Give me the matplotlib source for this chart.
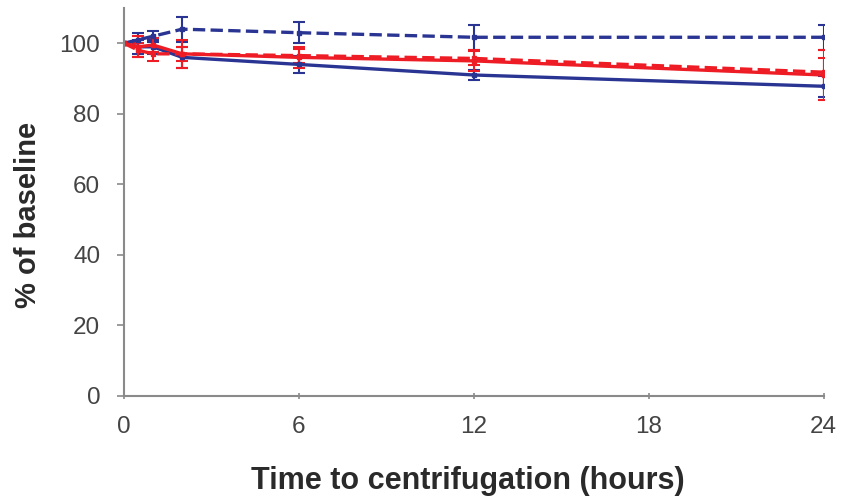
import numpy as np
import matplotlib
matplotlib.use("Agg")
import matplotlib.pyplot as plt

plt.rcParams['font.family'] = ['Liberation Sans', 'DejaVu Sans']

# time points (hours)
hours = [0, 0.5, 1, 2, 6, 12, 24]

# % of baseline, four conditions
blue_dash = [100, 101, 102, 104, 103, 101.7, 101.7]
blue_dash_err = [0, 2, 1.5, 3.5, 3, 3.5, 3.5]
blue_solid = [100, 99, 99, 96, 94, 91, 87.8]
blue_solid_err = [0, 2, 2, 3, 2.5, 1.5, 3]
red_solid = [100, 99, 99.5, 97, 96, 95, 91]
red_solid_err = [0, 3, 2, 4, 3, 3, 7]
red_dash = [100, 98, 97, 97, 96.5, 95.7, 91.8]
red_dash_err = [0, 2, 2, 2, 2, 2, 4]

blue = '#2a3593'
red = '#ee1c24'

fig = plt.figure(figsize=(8.43, 5.01), dpi=100)
ax = fig.add_axes([0.147, 0.21, 0.83, 0.774])

series = [
    (blue_dash, blue_dash_err, blue, '--'),
    (blue_solid, blue_solid_err, blue, '-'),
    (red_dash, red_dash_err, red, '--'),
    (red_solid, red_solid_err, red, '-'),
]
for vals, err, col, ls in series:
    ax.errorbar(hours, vals, yerr=err, color=col, ls=ls, lw=2.4,
                marker='s', ms=3.5, capsize=4, elinewidth=1.5, capthick=1.5)

ax.set_xlim(0, 24)
ax.set_ylim(0, 110)
ax.set_xticks([0, 6, 12, 18, 24])
ax.set_yticks([0, 20, 40, 60, 80, 100])

for s in ['top', 'right']:
    ax.spines[s].set_visible(False)
for s in ['left', 'bottom']:
    ax.spines[s].set_color('#8a8a8a')
    ax.spines[s].set_linewidth(1.5)

ax.tick_params(axis='both', colors='#8a8a8a', labelcolor='#444444',
               labelsize=17.5, width=1.2, length=5)
ax.tick_params(axis='x', direction='inout', pad=12)
ax.tick_params(axis='y', pad=12)

ax.set_xlabel('Time to centrifugation (hours)', fontsize=22,
              fontweight='bold', color='#2a2a2a')
ax.set_ylabel('% of baseline', fontsize=21, fontweight='bold',
              color='#2a2a2a')
ax.xaxis.set_label_coords(0.491, -0.18)
ax.yaxis.set_label_coords(-0.117, 0.466)

fig.savefig('out.png', dpi=100)
